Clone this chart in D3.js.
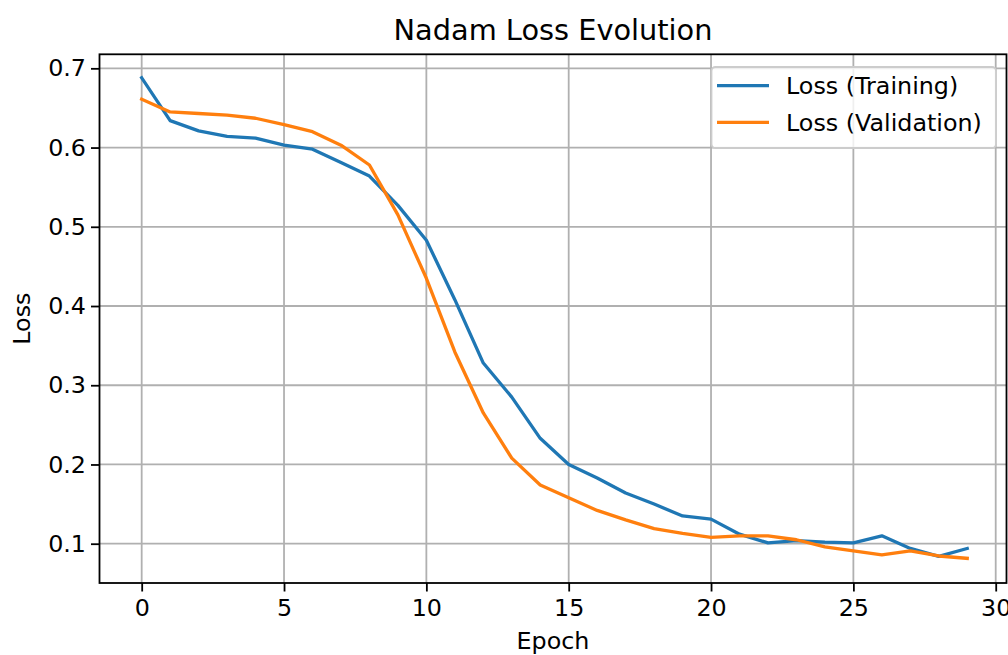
<!DOCTYPE html>
<html>
<head>
<meta charset="utf-8">
<script src="https://cdn.jsdelivr.net/npm/d3@7"></script>
<style>
  html, body { margin: 0; padding: 0; background: #fff; }
  text { font-family: "DejaVu Sans", sans-serif; fill: #000; }
</style>
</head>
<body>
<svg id="chart" width="1008" height="655"></svg>
<script>
const epochs = d3.range(0, 30);
const trainLoss = [0.688, 0.634, 0.621, 0.614, 0.612, 0.603, 0.598, 0.581, 0.564, 0.527,
                   0.483, 0.408, 0.328, 0.285, 0.233, 0.200, 0.183, 0.164, 0.150, 0.135,
                   0.131, 0.112, 0.101, 0.104, 0.102, 0.101, 0.110, 0.094, 0.084, 0.094];
const valLoss = [0.661, 0.645, 0.643, 0.641, 0.637, 0.629, 0.620, 0.603, 0.578, 0.515,
                 0.435, 0.342, 0.265, 0.208, 0.174, 0.158, 0.142, 0.130, 0.119, 0.113,
                 0.108, 0.110, 0.110, 0.105, 0.096, 0.091, 0.086, 0.091, 0.0845, 0.0815];
const xTicks = [0, 5, 10, 15, 20, 25, 30];
const yTicks = [0.1, 0.2, 0.3, 0.4, 0.5, 0.6, 0.7];
const seriesNames = ["Loss (Training)", "Loss (Validation)"];
const seriesColors = ["#1f77b4", "#ff7f0e"];

const L = 99.5, R = 1006.5, T = 54.3, B = 583;
const svg = d3.select("#chart");
const x = d3.scaleLinear().domain([-1.482, 30.379]).range([L, R]);
const y = d3.scaleLinear().domain([0.0504, 0.7177]).range([B, T]);

const FS = 23.8;

// grid
const grid = svg.append("g");
grid.selectAll("line.gx").data(xTicks).join("line")
  .attr("x1", d => x(d)).attr("x2", d => x(d)).attr("y1", T).attr("y2", B)
  .attr("stroke", "#b0b0b0").attr("stroke-width", 1.8);
grid.selectAll("line.gy").data(yTicks).join("line")
  .attr("y1", d => y(d)).attr("y2", d => y(d)).attr("x1", L).attr("x2", R)
  .attr("stroke", "#b0b0b0").attr("stroke-width", 1.8);

// lines
const series = [trainLoss, valLoss];
const line = d3.line().x((d, i) => x(epochs[i])).y(d => y(d));
series.forEach((s, k) => {
  svg.append("path").datum(s).attr("d", line)
    .attr("fill", "none").attr("stroke", seriesColors[k])
    .attr("stroke-width", 3.3).attr("stroke-linejoin", "round").attr("stroke-linecap", "square");
});

// axes
const xAxis = d3.axisBottom(x).tickValues(xTicks).tickSize(8.5).tickPadding(8).tickFormat(d3.format("d"));
const yAxis = d3.axisLeft(y).tickValues(yTicks).tickSize(8.5).tickPadding(5).tickFormat(d3.format(".1f"));
const gx = svg.append("g").attr("transform", `translate(0,${B})`).call(xAxis);
const gy = svg.append("g").attr("transform", `translate(${L},0)`).call(yAxis);
[gx, gy].forEach(g => {
  g.select(".domain").remove();
  g.selectAll(".tick line").attr("stroke", "#000").attr("stroke-width", 1.8);
  g.selectAll(".tick text").attr("font-size", FS).attr("font-family", "DejaVu Sans").attr("fill", "#000");
});

// frame
svg.append("rect").attr("x", L).attr("y", T).attr("width", R - L).attr("height", B - T)
  .attr("fill", "none").attr("stroke", "#000").attr("stroke-width", 1.8);

// title and axis labels
svg.append("text").attr("x", (L + R) / 2).attr("y", 39.5).attr("text-anchor", "middle")
  .attr("font-size", 28.8).text("Nadam Loss Evolution");
svg.append("text").attr("x", (L + R) / 2).attr("y", 649).attr("text-anchor", "middle")
  .attr("font-size", FS).text("Epoch");
svg.append("text").attr("transform", `translate(30,${(T + B) / 2}) rotate(-90)`)
  .attr("text-anchor", "middle").attr("font-size", FS).text("Loss");

// legend
const lg = svg.append("g");
lg.append("rect").attr("x", 711.5).attr("y", 67).attr("width", 284.5).attr("height", 81)
  .attr("rx", 4).attr("fill", "#fff").attr("fill-opacity", 0.8)
  .attr("stroke", "#cccccc").attr("stroke-width", 1.8);
seriesNames.forEach((name, k) => {
  const cy = 85.7 + k * 36.6;
  lg.append("line").attr("x1", 717).attr("x2", 769).attr("y1", cy).attr("y2", cy)
    .attr("stroke", seriesColors[k]).attr("stroke-width", 3.3);
  lg.append("text").attr("x", 786).attr("y", cy).attr("dy", "0.36em")
    .attr("font-size", FS).text(name);
});
</script>
</body>
</html>
